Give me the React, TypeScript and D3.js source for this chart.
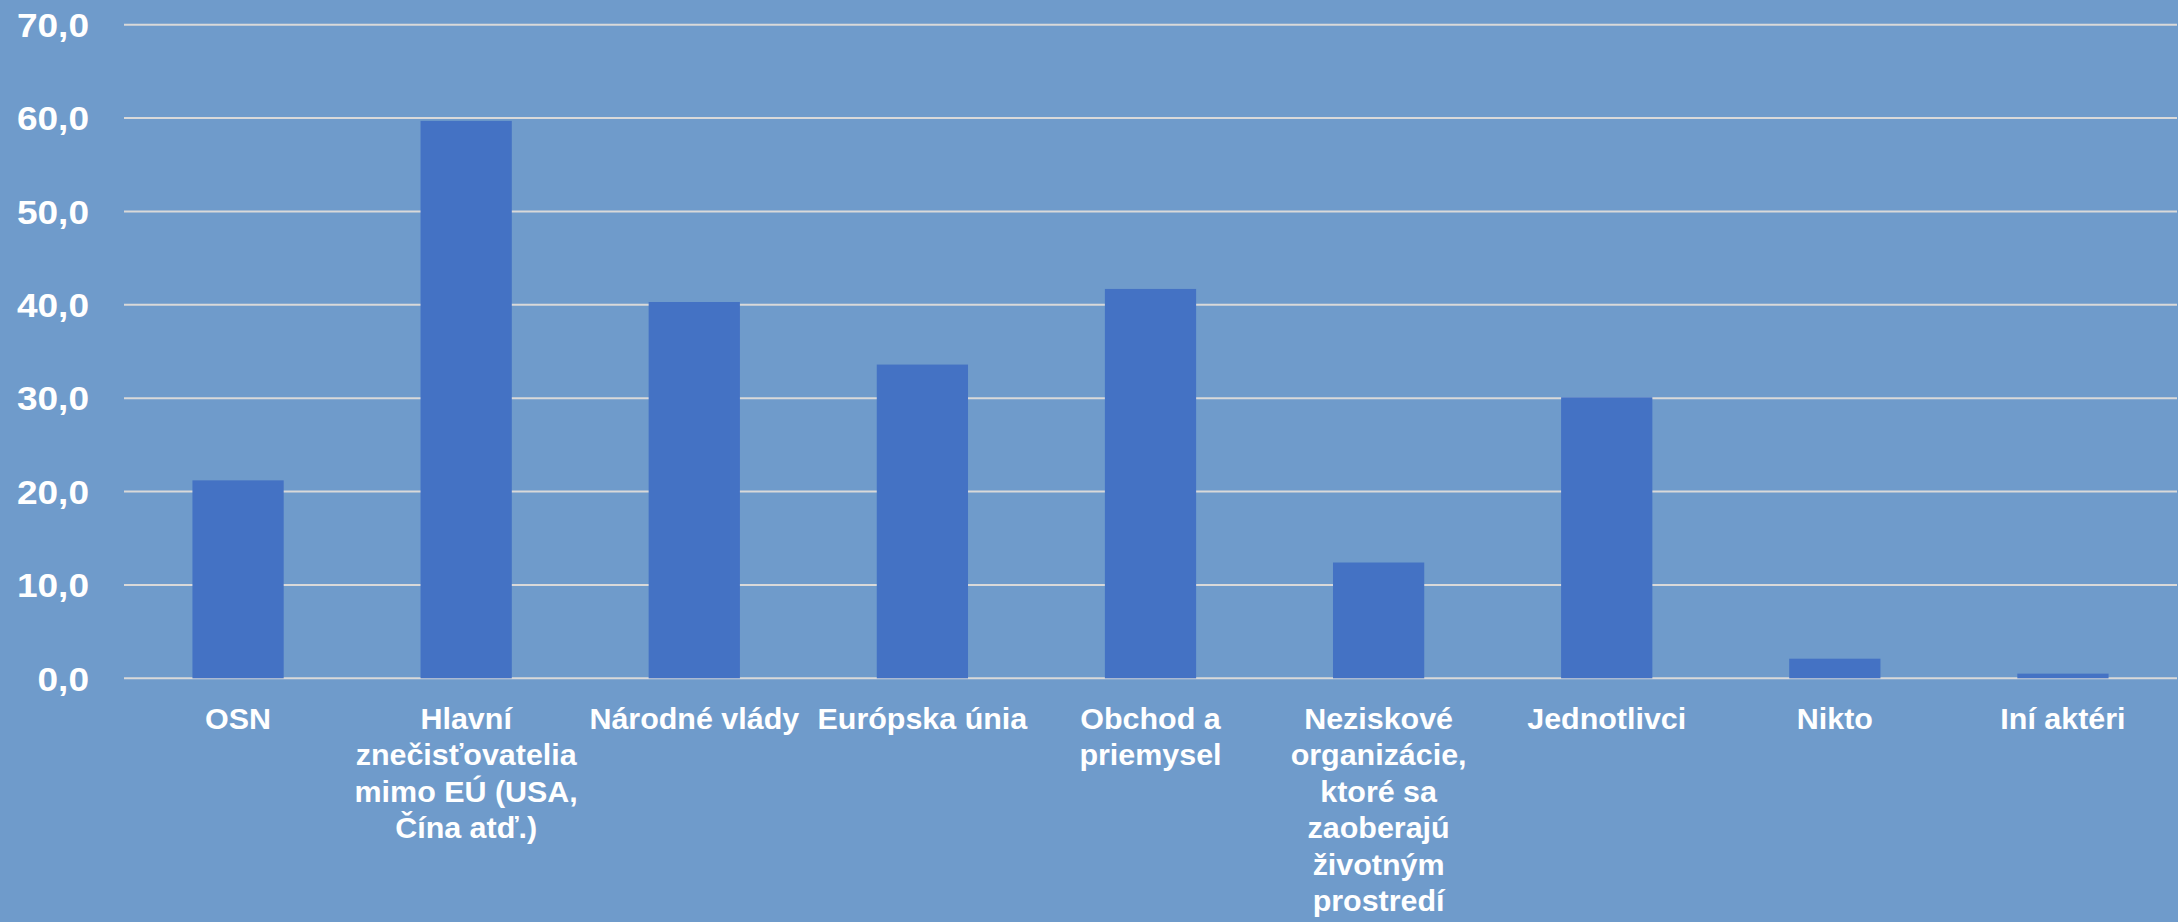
import React, { useMemo } from "react";
import * as d3 from "d3";

const categories = [
  "OSN",
  "Hlavní znečisťovatelia mimo EÚ (USA, Čína atď.)",
  "Národné vlády",
  "Európska únia",
  "Obchod a priemysel",
  "Neziskové organizácie, ktoré sa zaoberajú životným prostredí",
  "Jednotlivci",
  "Nikto",
  "Iní aktéri",
];
const values = [21.2, 59.7, 40.3, 33.6, 41.7, 12.4, 30.1, 2.1, 0.5];
const yTicks = [0, 10, 20, 30, 40, 50, 60, 70];

const W = 2178;
const H = 922;
const LEFT = 124;
const RIGHT = 2177;
const TOP = 24.7;
const BOTTOM = 678.3;
const BG = "#6F9BCB";
const BAR = "#4472C4";
const GRID = "#D9D9D9";
const XFONT = 29;
const XSCALE = 1.05;
const YFONT = 34;
const YSCALE = 1.09;
const LINE_H = 36.5;

function wrap(label: string, maxW: number): string[] {
  const canvas = document.createElement("canvas");
  const ctx = canvas.getContext("2d")!;
  ctx.font = `bold ${XFONT}px "Liberation Sans", Arial, sans-serif`;
  const words = label.split(" ");
  const lines: string[] = [];
  let cur = "";
  for (const w of words) {
    const t = cur ? cur + " " + w : w;
    if (ctx.measureText(t).width * XSCALE <= maxW || !cur) cur = t;
    else {
      lines.push(cur);
      cur = w;
    }
  }
  if (cur) lines.push(cur);
  return lines;
}

export default function App() {
  const x = d3
    .scaleBand<string>()
    .domain(categories)
    .range([LEFT, RIGHT])
    .paddingInner(0.6)
    .paddingOuter(0.3);
  const y = d3.scaleLinear().domain([0, 70]).range([BOTTOM, TOP]);
  const fmt = (v: number) => v.toFixed(1).replace(".", ",");
  const wrapped = useMemo(
    () => categories.map((c) => wrap(c, x.step())),
    []
  );

  return (
    <svg
      width={W}
      height={H}
      style={{ position: "absolute", left: 0, top: 0, display: "block" }}
    >
      <rect x={0} y={0} width={W} height={H} fill={BG} />
      {yTicks.map((t) => (
        <line
          key={t}
          x1={LEFT}
          x2={RIGHT}
          y1={y(t)}
          y2={y(t)}
          stroke={GRID}
          strokeWidth={2}
        />
      ))}
      {yTicks.map((t) => (
        <text
          key={"l" + t}
          transform={`translate(89,${y(t)}) scale(${YSCALE},1)`}
          dy="0.36em"
          textAnchor="end"
          fill="#FFFFFF"
          fontFamily='"Liberation Sans", Arial, sans-serif'
          fontWeight="bold"
          fontSize={YFONT}
        >
          {fmt(t)}
        </text>
      ))}
      {categories.map((c, i) => (
        <rect
          key={c}
          x={x(c)}
          y={y(values[i])}
          width={x.bandwidth()}
          height={y(0) - y(values[i])}
          fill={BAR}
        />
      ))}
      {categories.map((c, i) => {
        const cx = (x(c) as number) + x.bandwidth() / 2;
        return (
          <text
            key={"x" + c}
            transform={`translate(${cx},729) scale(${XSCALE},1)`}
            textAnchor="middle"
            fill="#FFFFFF"
            fontFamily='"Liberation Sans", Arial, sans-serif'
            fontWeight="bold"
            fontSize={XFONT}
          >
            {wrapped[i].map((ln, j) => (
              <tspan key={j} x={0} y={j * LINE_H}>
                {ln}
              </tspan>
            ))}
          </text>
        );
      })}
    </svg>
  );
}
